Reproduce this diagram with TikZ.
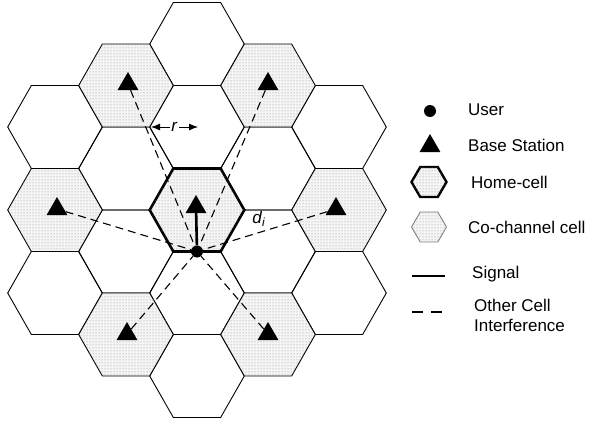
\documentclass[tikz,border=0pt]{standalone}
\usepackage{fontspec}
\setmainfont{Liberation Sans}
\usetikzlibrary{positioning, shapes.geometric, patterns, arrows.meta}

\begin{document}
\begin{tikzpicture}[x=1pt, y=-1pt,
        cell/.style={draw, line width=0.9pt},
        cochannel/.style={cell, fill=gray!8, postaction={pattern=dots, pattern color=gray!90}},
        homecell/.style={cochannel, line width=2.6pt},
        bs/.style={regular polygon, regular polygon sides=3, fill=black, inner sep=0pt, minimum size=24pt},
        user/.style={circle, fill=black, inner sep=0pt, minimum size=12pt},
        signal/.style={line width=2.6pt},
        interf/.style={line width=1.1pt, dash pattern=on 8pt off 5pt},
        legtext/.style={anchor=west, inner sep=0pt, font=\fontsize{17}{20}\selectfont}]
        \useasboundingbox (0,0) rectangle (590,426);
        % plain cells
        \foreach \cx/\cy in {197/44, 197/127, 197/293, 197/376,
                126/168.5, 126/251.5, 268/168.5, 268/251.5,
                55/127, 55/293, 339/127, 339/293}
            \draw[cell] (\cx,\cy) ++(-47.3,0) -- ++(23.65,-41.5) -- ++(47.3,0) -- ++(23.65,41.5)
                -- ++(-23.65,41.5) -- ++(-47.3,0) -- cycle;
        % co-channel cells
        \foreach \cx/\cy in {126/85.5, 268/85.5, 55/210, 339/210, 126/334.5, 268/334.5}
            \draw[cochannel] (\cx,\cy) ++(-47.3,0) -- ++(23.65,-41.5) -- ++(47.3,0) -- ++(23.65,41.5)
                -- ++(-23.65,41.5) -- ++(-47.3,0) -- cycle;
        \draw[homecell] (197,210) ++(-47.3,0) -- ++(23.65,-41.5) -- ++(47.3,0) -- ++(23.65,41.5)
            -- ++(-23.65,41.5) -- ++(-47.3,0) -- cycle;

        \node[user] (user) at (197,251.5) {};
        \node[bs] (bs0) at (196,207) {};
        \node[bs] (bs1) at (128,84) {};
        \node[bs] (bs2) at (268,84) {};
        \node[bs] (bs3) at (57,209) {};
        \node[bs] (bs4) at (336,209) {};
        \node[bs] (bs5) at (127,334) {};
        \node[bs] (bs6) at (268,334) {};

        \foreach \b in {1,...,6}
            \draw[interf] (bs\b) -- (user);
        \draw[signal] (user) -- (bs0);

        % radius
        \coordinate (rl) at (151,127);
        \coordinate (rr) at (198,127);
        \draw[line width=0.9pt, {Latex[length=9pt,width=7pt]}-{Latex[length=9pt,width=7pt]}] (rl) -- node[fill=white, inner sep=1pt, font=\fontsize{17}{20}\selectfont] (r) {\textit{r}} (rr);
        \node[font=\fontsize{17}{20}\selectfont] (di) at (259,219) {\textit{d}\textsubscript{\textit{i}}};

        % legend
        \node[user] (leguser) at (430,111) {};
        \node[bs] (legbs) at (430,146) {};
        \draw[homecell, line width=2.4pt] (429,182) ++(-17.5,0) -- ++(8.75,-15) -- ++(17.5,0) -- ++(8.75,15)
            -- ++(-8.75,15) -- ++(-17.5,0) -- cycle;
        \draw[cochannel, draw=gray] (429,227) ++(-17.5,0) -- ++(8.75,-15) -- ++(17.5,0) -- ++(8.75,15)
            -- ++(-8.75,15) -- ++(-17.5,0) -- cycle;
        \coordinate (sigA) at (412,276);
        \coordinate (sigB) at (445,276);
        \draw[signal] (sigA) -- (sigB);
        \coordinate (intA) at (412,312);
        \coordinate (intB) at (442,312);
        \draw[line width=1.3pt, dash pattern=on 11pt off 8pt] (intA) -- (intB);

        \node[legtext] (tuser) at (468,110) {User};
        \node[legtext] (tbs) at (468,145) {Base Station};
        \node[legtext] (thome) at (471,182) {Home-cell};
        \node[legtext] (tco) at (468,227) {Co-channel cell};
        \node[legtext] (tsig) at (472,274) {Signal};
        \node[legtext, align=left] (tint) at (474,315) {Other Cell\\Interference};
\end{tikzpicture}
\end{document}
